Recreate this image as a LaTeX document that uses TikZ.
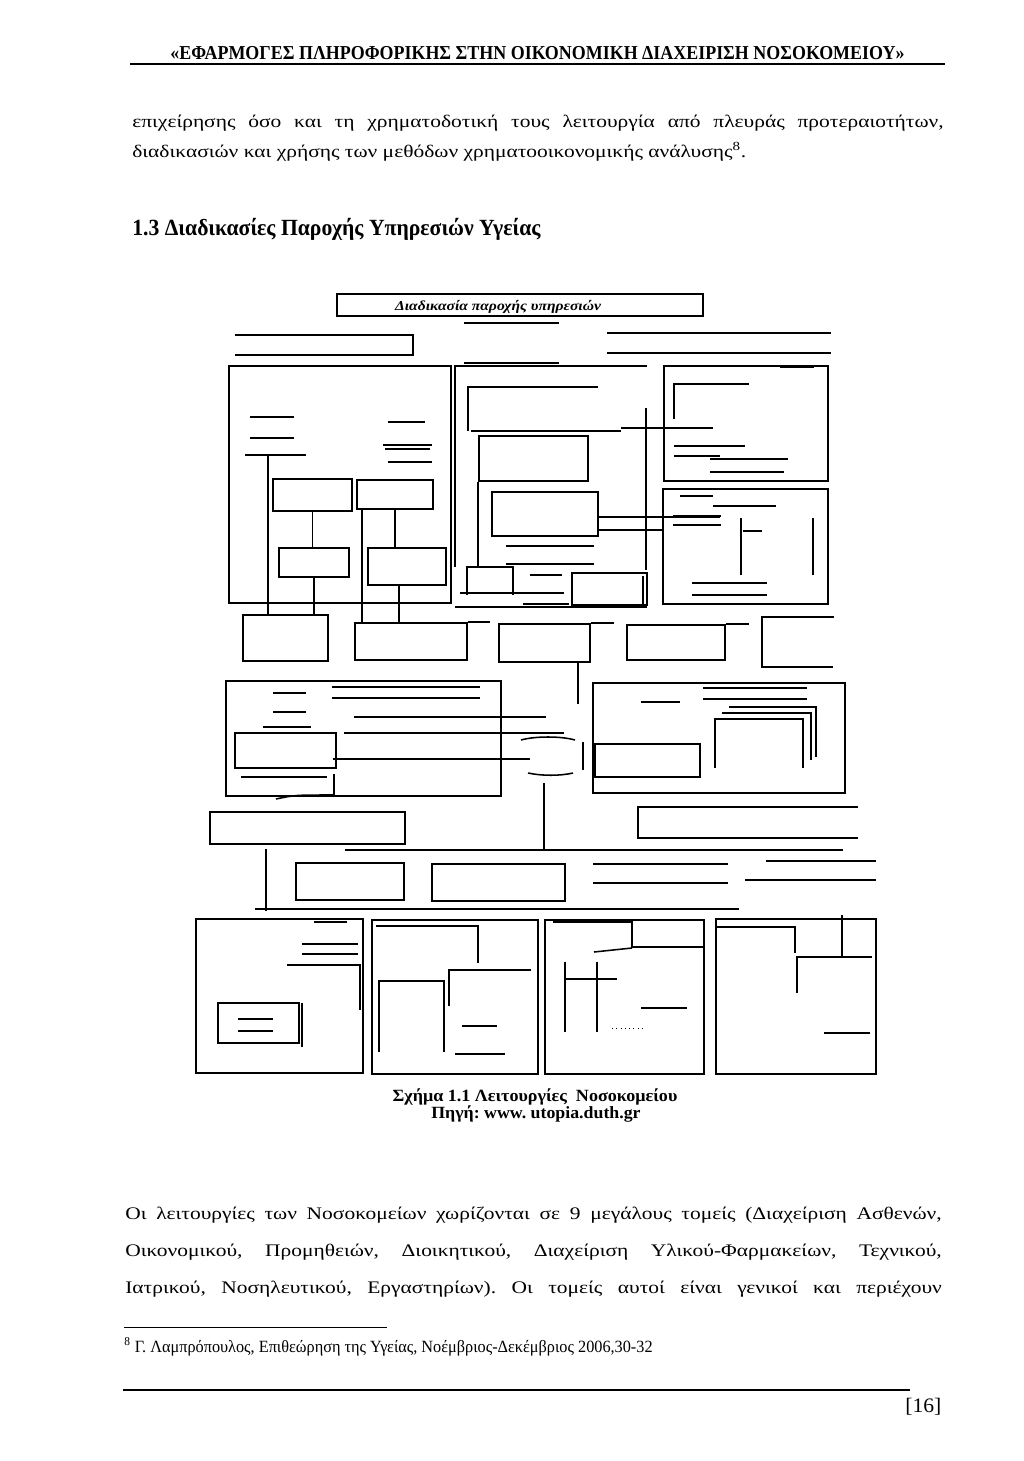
\documentclass[tikz,border=0pt]{standalone}
\usepackage{fontspec}
\setmainfont{Liberation Serif}[FakeStretch=1.215]
\usepackage{graphicx}
\usetikzlibrary{fit}
\frenchspacing

\tikzset{
  ln/.style={line width=0.9pt},
  thk/.style={line width=1.6pt},
  bx/.style={draw, line width=0.9pt, inner sep=0pt, fit={#1}},
  txt/.style={inner sep=0pt, anchor=base west},
  body/.style={txt, font=\fontsize{10.3}{12}\selectfont},
  ctxt/.style={inner sep=0pt, anchor=base},
}

\begin{document}
\begin{tikzpicture}[x=0.583pt,y=-0.583pt]
\path[use as bounding box, fill=white] (0,0) rectangle (1024,1461);

% page head
\node[txt] (hdr) at (170,59) {\resizebox{428pt}{\height}{\fontsize{11.5}{13}\selectfont\bfseries «ΕΦΑΡΜΟΓΕΣ ΠΛΗΡΟΦΟΡΙΚΗΣ ΣΤΗΝ ΟΙΚΟΝΟΜΙΚΗ ΔΙΑΧΕΙΡΙΣΗ ΝΟΣΟΚΟΜΕΙΟΥ»}};
\draw[line width=1.4pt] (130,64) -- (945,64);

\node[body] (par1) at (132,127) {\makebox[473pt][s]{επιχείρησης όσο και τη χρηματοδοτική τους λειτουργία από πλευράς προτεραιοτήτων,}};
\node[body] (par2) at (132,157) {διαδικασιών και χρήσης των μεθόδων χρηματοοικονομικής ανάλυσης\textsuperscript{8}.};
\node[txt] (sec) at (132,235) {\resizebox{238pt}{\height}{\fontsize{13.5}{15}\selectfont\bfseries 1.3 Διαδικασίες Παροχής Υπηρεσιών Υγείας}};

% title box
\node[bx={(337,294) (703,316)}] (ttl) {};
\node[ctxt] (ttltxt) at (498,310) {\resizebox{120pt}{\height}{\fontsize{8}{9}\selectfont\bfseries\itshape Διαδικασία παροχής υπηρεσιών}};
\draw[ln] (464,323) -- (559,323);
\draw[ln] (464,363) -- (559,363);
\draw[ln] (235,335) -- (413,335) -- (413,355) -- (235,355);
\draw[ln] (607,333) -- (831,333);
\draw[ln] (607,353) -- (831,353);

% left block
\node[bx={(229,366) (451,603)}] (lbig) {};
\draw[ln] (250,417) -- (294,417);
\draw[ln] (250,438) -- (294,438);
\draw[ln] (245,455) -- (306,455);
\draw[ln] (388,422) -- (425,422);
\draw[ln] (383,445) -- (432,445);
\draw[ln] (385,449) -- (430,449);
\draw[ln] (388,462) -- (432,462);
\node[bx={(273,479) (352,511)}] (ba) {};
\node[bx={(357,480) (433,509)}] (bb) {};
\node[bx={(279,548) (349,577)}] (bc) {};
\node[bx={(368,548) (446,585)}] (bd) {};

% middle block
\draw[ln] (455,567) -- (455,366) -- (647,366);
\draw[ln] (455,607) -- (647,607);
\draw[ln] (646,408) -- (646,570);
\draw[ln] (468,431) -- (468,387) -- (598,387);
\draw[ln] (471,431) -- (621,431);
\draw[ln] (621,428) -- (713,428);
\node[bx={(479,436) (588,481)}] (bf) {};
\node[bx={(492,492) (598,536)}] (bg) {};
\draw[ln] (bf.south west) -- ++(0,86);
\draw[ln] (bg.east) ++(0,3) -- ++(121,0);
\draw[ln] (bg.east) ++(0,16) -- ++(65,0);
\draw[ln] (506,546) -- (594,546);
\draw[ln] (506,564) -- (594,564);
\draw[ln] (467,595) -- (467,567) -- (513,567) -- (513,595);
\draw[ln] (460,593) -- (564,593);
\draw[ln] (530,575) -- (562,575);
\node[bx={(572,573) (647,605)}] (bi) {};
\draw[ln] (643,576) -- (643,604);
\draw[ln] (523,604) -- (569,604);

% right blocks
\node[bx={(664,366) (828,481)}] (rtop) {};
\draw[thk] (780,367) -- (814,367);
\draw[ln] (674,419) -- (674,384) -- (749,384);
\draw[ln] (674,446) -- (745,446);
\draw[ln] (674,456) -- (720,456);
\draw[ln] (710,459) -- (788,459);
\draw[ln] (710,472) -- (784,472);
\node[bx={(663,489) (828,604)}] (rmid) {};
\draw[ln] (680,496) -- (713,496);
\draw[ln] (713,506) -- (776,506);
\draw[ln] (673,516) -- (721,516);
\draw[ln] (673,525) -- (721,525);
\draw[ln] (741,518) -- (741,575);
\draw[ln] (813,518) -- (813,575);
\draw[ln] (743,531) -- (762,531);
\draw[ln] (692,583) -- (767,583);
\draw[ln] (692,595) -- (767,595);

% second row
\node[bx={(243,615) (328,661)}] (be) {};
\node[bx={(355,623) (467,660)}] (bj) {};
\node[bx={(499,624) (590,662)}] (bk) {};
\node[bx={(627,625) (725,660)}] (bl) {};
\draw[ln] (834,617) -- (762,617) -- (762,667) -- (833,667);
\draw[ln] (bj.north east) -- ++(22,0);
\draw[ln] (bk.north east) -- ++(23,0);
\draw[ln] (bl.north east) -- ++(23,0);
\draw[ln] (245,455) ++(23,0) -- (268,615);
\draw[ln] (ba.south) -- (ba.south |- bc.north);
\draw[ln] (bc.south) -- (bc.south |- be.north);
\draw[ln] (bb.south west) ++(6,0) -- ++(0,114);
\draw[ln] (bb.south) -- (bb.south |- bd.north);
\draw[ln] (bd.south) ++(-8,0) -- ++(0,38);
\draw[ln] (bk.south east) ++(-13,0) -- ++(0,41);

% third row
\node[bx={(226,681) (501,796)}] (bn) {};
\draw[ln] (273,693) -- (306,693);
\draw[ln] (332,687) -- (480,687);
\draw[ln] (332,698) -- (480,698);
\draw[ln] (273,712) -- (306,712);
\draw[ln] (263,727) -- (311,727);
\draw[ln] (354,717) -- (546,717);
\draw[ln] (344,733) -- (564,733);
\node[bx={(235,733) (336,768)}] (bo) {};
\draw[ln] (bo.south east) ++(-4,-10) -- ++(197,0);
\draw[ln] (241,777) -- (327,777);
\draw[ln] (334,774) -- (334,795);
\draw[ln] (276,799) .. controls (295,795) .. (333,795);
\coordinate (cyl) at (548,757);
\draw[ln] (521,740) .. controls (535,736) and (561,736) .. (575,740);
\draw[ln] (528,773) .. controls (542,776) and (560,776) .. (573,773);
\draw[ln] (583,742) -- (583,770);
\draw[ln] (cyl) ++(-4,26) -- (544,850);
\node[bx={(593,683) (845,793)}] (bp) {};
\draw[ln] (703,688) -- (807,688);
\draw[ln] (703,699) -- (807,699);
\draw[ln] (641,702) -- (680,702);
\draw[ln] (729,707) -- (816,707) -- (816,757);
\draw[ln] (722,713) -- (811,713) -- (811,760);
\draw[ln] (715,768) -- (715,719) -- (803,719) -- (803,768);
\node[bx={(595,744) (700,777)}] (br) {};

% fourth row
\node[bx={(210,812) (405,844)}] (bs) {};
\draw[ln] (858,807) -- (638,807) -- (638,838) -- (858,838);
\draw[ln] (345,850) -- (843,850);
\draw[ln] (bs.south west) ++(57,4) -- ++(0,62);
\node[bx={(296,863) (404,900)}] (bu) {};
\node[bx={(432,864) (565,901)}] (bv) {};
\draw[ln] (593,864) -- (728,864);
\draw[ln] (593,883) -- (728,883);
\draw[ln] (766,861) -- (876,861);
\draw[ln] (745,880) -- (876,880);
\draw[ln] (255,909) -- (739,909);

% bottom boxes
\node[bx={(196,919) (363,1073)}] (wa) {};
\draw[thk] (314,922) -- (347,922);
\draw[ln] (302,944) -- (358,944);
\draw[ln] (302,954) -- (358,954);
\draw[ln] (287,965) -- (360,965) -- (360,1010);
\node[bx={(218,1003) (299,1043)}] (wain) {};
\draw[ln] (238,1019) -- (273,1019);
\draw[ln] (238,1031) -- (273,1031);
\draw[ln] (302,1003) -- (302,1047);

\node[bx={(372,920) (538,1074)}] (wb) {};
\draw[ln] (376,926) -- (478,926) -- (478,963);
\draw[ln] (379,1052) -- (379,981) -- (444,981) -- (444,1052);
\draw[ln] (449,1006) -- (449,970) -- (531,970);
\draw[ln] (462,1026) -- (497,1026);
\draw[ln] (455,1054) -- (505,1054);

\node[bx={(545,920) (704,1074)}] (wc) {};
\draw[thk] (553,922) -- (633,922);
\draw[ln] (632,922) -- (632,947) -- (703,947);
\draw[ln] (594,952) -- (632,948);
\draw[ln] (565,962) -- (565,1032);
\draw[ln] (597,962) -- (597,1032);
\draw[ln] (565,979) -- (617,979);
\draw[ln] (641,1008) -- (687,1008);
\draw[line width=0.5pt, dotted] (612,1028) -- (646,1028);

\node[bx={(716,919) (876,1074)}] (wd) {};
\draw[ln] (716,927) -- (795,927) -- (795,953);
\draw[ln] (842,915) -- (842,957);
\draw[ln] (797,993) -- (797,957) -- (872,957);
\draw[ln] (824,1033) -- (870,1033);

% caption
\node[ctxt] (cap1) at (535,1101) {\resizebox{166pt}{\height}{\fontsize{10}{12}\selectfont\bfseries Σχήμα 1.1 Λειτουργίες\ \ Νοσοκομείου}};
\node[ctxt] (cap2) at (536,1118) {\resizebox{122pt}{\height}{\fontsize{10}{12}\selectfont\bfseries Πηγή: www. utopia.duth.gr}};

% text below
\node[body] (par3) at (125,1219) {\makebox[476pt][s]{Οι λειτουργίες των Νοσοκομείων χωρίζονται σε 9 μεγάλους τομείς (Διαχείριση Ασθενών,}};
\node[body] (par4) at (125,1256) {\makebox[476pt][s]{Οικονομικού, Προμηθειών, Διοικητικού, Διαχείριση Υλικού-Φαρμακείων, Τεχνικού,}};
\node[body] (par5) at (125,1293) {\makebox[476pt][s]{Ιατρικού, Νοσηλευτικού, Εργαστηρίων). Οι τομείς αυτοί είναι γενικοί και περιέχουν}};
\draw[line width=0.6pt] (124,1327) -- (387,1327);
\node[txt] (fn) at (124,1352) {\resizebox{308pt}{\height}{\fontsize{10}{12}\selectfont\textsuperscript{8} Γ. Λαμπρόπουλος, Επιθεώρηση της Υγείας, Νοέμβριος-Δεκέμβριος 2006,30-32}};
\draw[line width=1.5pt] (123,1390) -- (910,1390);
\node[txt] (pg) at (905,1412) {\resizebox{21pt}{\height}{\fontsize{12}{14}\selectfont [16]}};

\end{tikzpicture}
\end{document}
